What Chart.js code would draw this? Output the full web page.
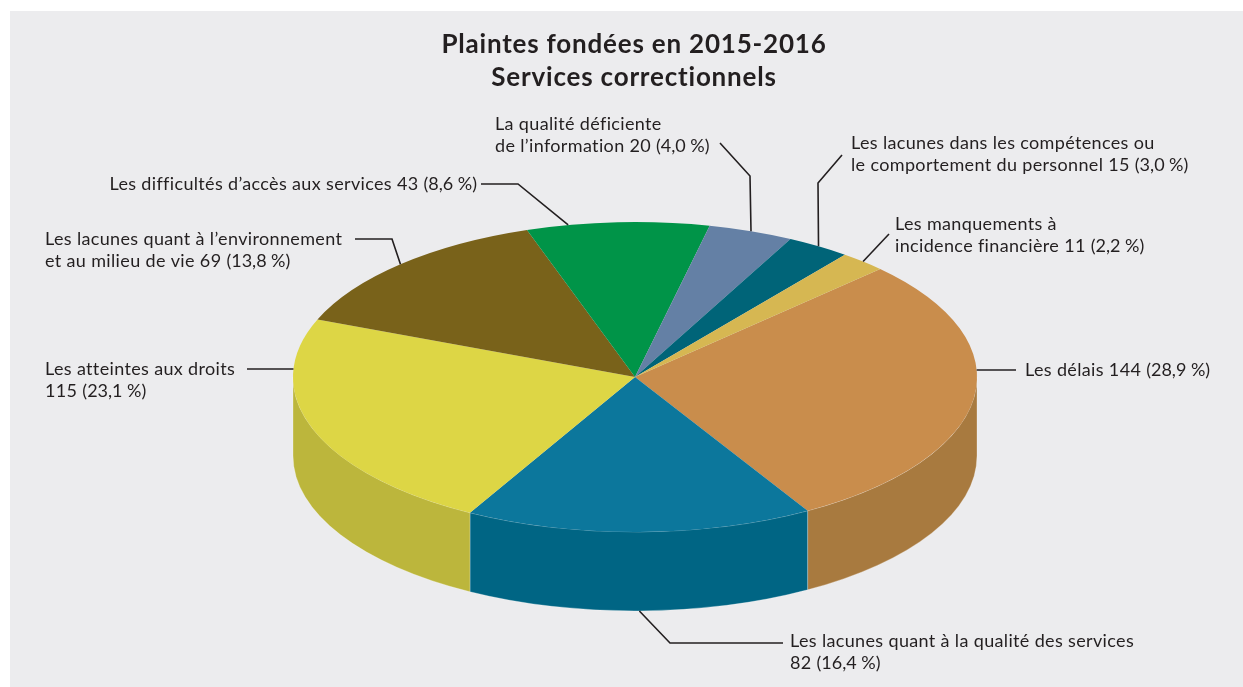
<!DOCTYPE html>
<html>
<head>
<meta charset="utf-8">
<script src="https://cdn.jsdelivr.net/npm/chart.js@4.4.0/dist/chart.umd.min.js"></script>
<style>
  html, body { margin: 0; padding: 0; background: #fff; }
  #wrap { width: 1243px; height: 687px; position: relative; }
</style>
</head>
<body>
<div id="wrap"><canvas id="chart"></canvas></div>
<script>
// --- Données ---
const categories = [
    ['Les délais'],
    ['Les lacunes quant à la qualité des services', ''],
    ['Les atteintes aux droits', ''],
    ['Les lacunes quant à l’environnement', 'et au milieu de vie'],
    ['Les difficultés d’accès aux services'],
    ['La qualité déficiente', 'de l’information'],
    ['Les lacunes dans les compétences ou', 'le comportement du personnel'],
    ['Les manquements à', 'incidence financière']
];
const values = [144, 82, 115, 69, 43, 20, 15, 11];
// pourcentages tels que publiés
const percents = [28.9, 16.4, 23.1, 13.8, 8.6, 4.0, 3.0, 2.2];
const titleLines = ['Plaintes fondées en 2015-2016', 'Services correctionnels'];

// --- Style ---
const topColors = ['#c98d4c', '#0c779c', '#ddd645', '#79621a', '#009448', '#6480a5', '#006478', '#d6b752'];
const sideColors = ['#a87a3f', '#006584', '#bcb63c', '#5f4d14', '#007a3b', '#506888', '#004f5f', '#b39a44'];
const SX = 1.71, SY = 0.775;  // aplatissement de l'ellipse
const DEPTH = 79;             // épaisseur du disque
const TEXT = '#231f20';
const FONT = '"Lato", "Open Sans", sans-serif';

// position des étiquettes et des traits de rappel
const labelLayout = [
    { x: 1025, y: 370, align: 'left',  path: [[1016, 370]], anchor: 'right' },
    { x: 790,  y: 641, align: 'left',  path: [[783, 643], [670, 643]], anchor: 'bottom' },
    { x: 45,   y: 369, align: 'left',  path: [[247, 369]], anchor: 'left' },
    { x: 45,   y: 239, align: 'left',  path: [[355, 239], [392, 239]], anchor: 'rim' },
    { x: 477,  y: 184, align: 'right', path: [[481, 184], [518, 184]], anchor: 'rim', at: 0.23 },
    { x: 495,  y: 124, align: 'left',  path: [[720, 143], [750, 176]], anchor: 'rim' },
    { x: 851,  y: 143, align: 'left',  path: [[842, 155], [818, 183]], anchor: 'rim' },
    { x: 895,  y: 224, align: 'left',  path: [[889, 234]], anchor: 'rim' }
];

const fmtPct = p => p.toFixed(1).replace('.', ',') + '\u202F%';

function geom(chart) {
    const arc = chart.getDatasetMeta(0).data[0];
    return { cx: arc.x, cy: arc.y, rx: arc.outerRadius * SX, ry: arc.outerRadius * SY };
}

// --- Plugin 3D : parois, aplatissement, étiquettes ---
const pie3d = {
    id: 'pie3d',
    beforeDraw(chart) {
        const ctx = chart.ctx;
        ctx.save();
        ctx.fillStyle = '#fff';
        ctx.fillRect(0, 0, chart.width, chart.height);
        ctx.fillStyle = '#ececee';
        ctx.fillRect(10, 11, chart.width - 10, chart.height - 11);
        ctx.restore();
    },
    beforeDatasetsDraw(chart) {
        const ctx = chart.ctx;
        const g = geom(chart);
        const arcs = chart.getDatasetMeta(0).data;
        // parois visibles (moitié avant : 0 à PI)
        arcs.forEach((arc, i) => {
            const s = arc.startAngle, e = arc.endAngle;
            [-2 * Math.PI, 0, 2 * Math.PI].forEach(k => {
                const a = Math.max(s, k), b = Math.min(e, k + Math.PI);
                if (b <= a) return;
                ctx.beginPath();
                ctx.ellipse(g.cx, g.cy, g.rx, g.ry, 0, a, b);
                ctx.ellipse(g.cx, g.cy + DEPTH, g.rx, g.ry, 0, b, a, true);
                ctx.closePath();
                ctx.fillStyle = sideColors[i];
                ctx.fill();
                ctx.strokeStyle = 'rgba(255,255,255,0.35)';
                ctx.lineWidth = 0.8;
                ctx.stroke();
            });
        });
        ctx.save();
        ctx.translate(g.cx, g.cy);
        ctx.scale(SX, SY);
        ctx.translate(-g.cx, -g.cy);
    },
    afterDatasetsDraw(chart) {
        chart.ctx.restore();
    },
    afterDraw(chart) {
        const ctx = chart.ctx;
        const g = geom(chart);
        const arcs = chart.getDatasetMeta(0).data;
        ctx.save();
        ctx.fillStyle = TEXT;
        ctx.textAlign = 'center';
        ctx.textBaseline = 'alphabetic';
        ctx.font = 'bold 26px ' + FONT;
        ctx.letterSpacing = '0.8px';
        ctx.fillText(titleLines[0], 634, 53);
        ctx.fillText(titleLines[1], 634, 86);

        ctx.font = '18px ' + FONT;
        ctx.letterSpacing = '0.35px';
        ctx.textBaseline = 'middle';
        ctx.strokeStyle = TEXT;
        ctx.lineWidth = 1.6;
        labelLayout.forEach((lay, i) => {
            const lines = categories[i].slice();
            const suffix = values[i] + ' (' + fmtPct(percents[i]) + ')';
            lines[lines.length - 1] = (lines[lines.length - 1] + ' ' + suffix).trim();
            ctx.textAlign = lay.align;
            lines.forEach((t, j) => ctx.fillText(t, lay.x, lay.y + j * 22.5));

            // point d'ancrage sur le disque
            const arc = arcs[i];
            const last = lay.path[lay.path.length - 1];
            let ax, ay;
            if (lay.anchor === 'right' || lay.anchor === 'left') {
                const dy = (last[1] - g.cy) / g.ry;
                const dx = g.rx * Math.sqrt(Math.max(0, 1 - dy * dy));
                ax = lay.anchor === 'right' ? g.cx + dx : g.cx - dx;
                ay = last[1];
            } else {
                const f = lay.at !== undefined ? lay.at : 0.5;
                const ang = arc.startAngle + (arc.endAngle - arc.startAngle) * f;
                ax = g.cx + g.rx * Math.cos(ang);
                ay = g.cy + g.ry * Math.sin(ang) + (lay.anchor === 'bottom' ? DEPTH : 0);
            }
            ctx.beginPath();
            ctx.moveTo(lay.path[0][0], lay.path[0][1]);
            lay.path.slice(1).forEach(p => ctx.lineTo(p[0], p[1]));
            ctx.lineTo(ax, ay);
            ctx.stroke();
        });
        ctx.restore();
    }
};

new Chart(document.getElementById('chart'), {
    type: 'pie',
    data: {
        labels: categories.map(l => l.join(' ').trim()),
        datasets: [{
            data: values,
            backgroundColor: topColors,
            borderWidth: 0
        }]
    },
    options: {
        responsive: true,
        maintainAspectRatio: false,
        animation: false,
        events: [],
        rotation: 45.8,
        layout: { padding: { left: 435, right: 408, top: 177, bottom: 110 } },
        plugins: {
            legend: { display: false },
            tooltip: { enabled: false },
            title: { display: false }
        }
    },
    plugins: [pie3d]
});
</script>
</body>
</html>
